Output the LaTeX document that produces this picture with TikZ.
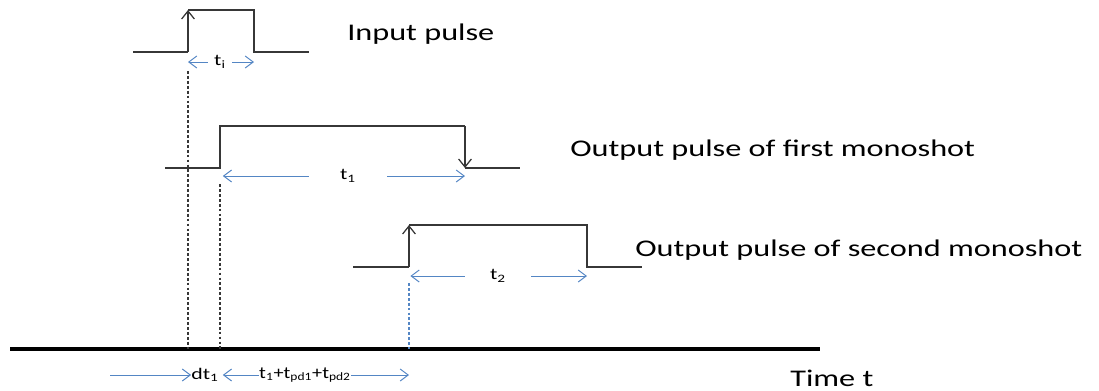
\documentclass[tikz,border=0pt]{standalone}
\usepackage{fontspec}
\setmainfont{Carlito}[FakeStretch=1.35]
\newfontfamily\plainfont{Carlito}[FakeStretch=1.2]
\usetikzlibrary{arrows.meta,positioning}
\definecolor{waveblack}{RGB}{55,55,55}
\definecolor{spanblue}{RGB}{84,134,196}
\tikzset{
    wave/.style={draw=waveblack, line width=0.9pt},
    edgetip/.style={-{Straight Barb[length=2mm,width=3.2mm]}},
    span/.style={draw=spanblue, line width=0.7pt,
                 -{Straight Barb[length=2mm,width=3mm]}},
    guide/.style={draw=waveblack, line width=0.8pt,
                  dash pattern=on 2pt off 1.5pt},
    tag/.style={anchor=base west, inner sep=0pt,
                font=\fontsize{17}{20}\selectfont},
    dur/.style={inner xsep=0pt, inner ysep=1pt, minimum height=0.4cm,
                font=\fontsize{11.5}{13}\selectfont},
}
\begin{document}
\begin{tikzpicture}[x=0.025cm, y=-0.025cm]
    \useasboundingbox (0,0) rectangle (1099,390);
    % time axis
    \coordinate (ax0) at (10,349);
    \coordinate (ax1) at (820,349);
    \draw[line width=2.2pt, black] (ax0) -- (ax1);
    \node[tag] (ltime) at (790,386) {Time t};

    % input pulse
    \coordinate (a0) at (133,52);
    \coordinate (a1) at (188,52);
    \coordinate (a2) at (188,10);
    \coordinate (a3) at (254,10);
    \coordinate (a4) at (254,52);
    \coordinate (a5) at (309,52);
    \draw[wave] (a0) -- (a1);
    \draw[wave, edgetip] (a1) -- (a2);
    \draw[wave] (a2) -- (a3) -- (a4) -- (a5);
    \node[tag] (lin) at (347,40) {Input pulse};
    \node[dur, minimum width=0.6cm] (ti) at (220,62) {t\textsubscript{i}};
    \draw[span] (ti.west) -- (a1 |- ti);
    \draw[span] (ti.east) -- (a4 |- ti);
    \coordinate (d1) at (188,71);
    \draw[guide] (d1) -- (d1 |- ax0);

    % first monoshot
    \coordinate (b0) at (165,168);
    \coordinate (b1) at (220,168);
    \coordinate (b2) at (220,126);
    \coordinate (b3) at (465,126);
    \coordinate (b4) at (465,168);
    \coordinate (b5) at (520,168);
    \draw[wave] (b0) -- (b1) -- (b2) -- (b3);
    \draw[wave, edgetip] (b3) -- (b4);
    \draw[wave] (b4) -- (b5);
    \node[tag] (lfirst) at (570,156) {Output pulse of first monoshot};
    \node[dur, minimum width=1.95cm] (t1) at (348,176) {t\textsubscript{1}};
    \draw[span] (t1.west) -- ([xshift=2]b1 |- t1);
    \draw[span] (t1.east) -- (b4 |- t1);
    \coordinate (d2) at (220,184);
    \draw[guide] (d2) -- (d2 |- ax0);

    % second monoshot
    \coordinate (c0) at (353,267);
    \coordinate (c1) at (409,267);
    \coordinate (c2) at (409,225);
    \coordinate (c3) at (587,225);
    \coordinate (c4) at (587,267);
    \coordinate (c5) at (642,267);
    \draw[wave] (c0) -- (c1);
    \draw[wave, edgetip] (c1) -- (c2);
    \draw[wave] (c2) -- (c3) -- (c4) -- (c5);
    \node[tag] (lsecond) at (635,256) {Output pulse of second monoshot};
    \node[dur, minimum width=1.65cm] (t2) at (498,276) {t\textsubscript{2}};
    \draw[span] (t2.west) -- ([xshift=1]c1 |- t2);
    \draw[span] (t2.east) -- (c4 |- t2);
    \coordinate (d3) at (409,283);
    \draw[guide, draw=spanblue] (d3) -- (d3 |- ax0);

    % delays below the axis
    \node[dur] (dt) at (205,375) {dt\textsubscript{1}};
    \node[dur, font=\fontsize{12}{14}\plainfont] (sum) at (305,375)
        {t\textsubscript{1}+t\textsubscript{pd1}+t\textsubscript{pd2}};
    \coordinate (s0) at (110,375);
    \draw[span] (s0) -- (dt.west);
    \draw[span] (sum.west) -- ([xshift=2]d2 |- sum);
    \draw[span] (sum.east) -- (d3 |- sum);
\end{tikzpicture}
\end{document}
